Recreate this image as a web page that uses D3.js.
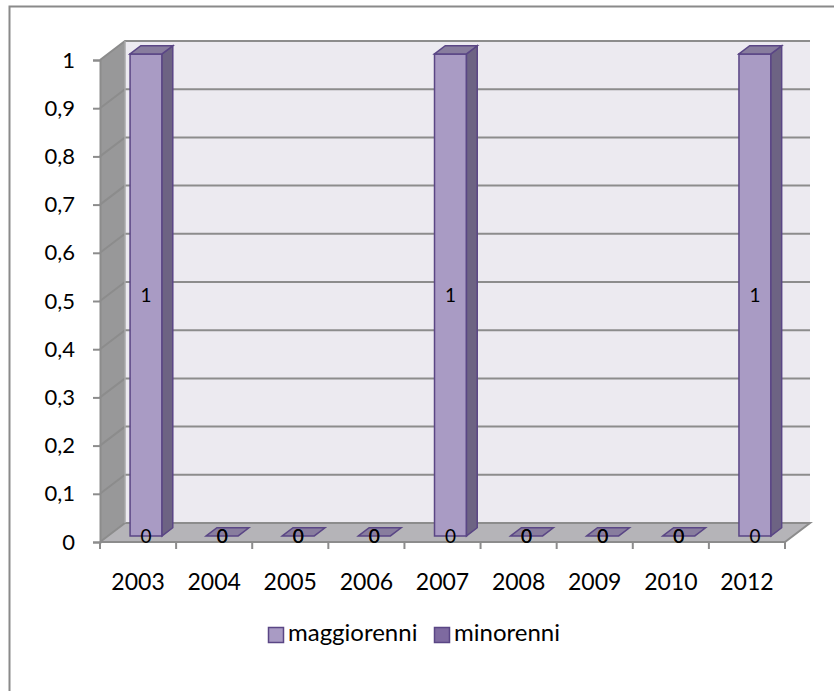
<!DOCTYPE html>
<html>
<head>
<meta charset="utf-8">
<script src="https://cdn.jsdelivr.net/npm/d3@7"></script>
<style>
  html, body { margin: 0; padding: 0; background: #fff; }
  svg { display: block; font-family: Lato, "Open Sans", sans-serif; }
</style>
</head>
<body>
<svg id="chart" width="834" height="691"></svg>
<script>
// Years shown on the category axis
const categories = ["2003", "2004", "2005", "2006", "2007", "2008", "2009", "2010", "2012"];
// Stacked series values
const maggiorenni = [1, 0, 0, 0, 1, 0, 0, 0, 1];
const minorenni   = [0, 0, 0, 0, 0, 0, 0, 0, 0];
// Value axis ticks and their labels
const yTicks = [0, 0.1, 0.2, 0.3, 0.4, 0.5, 0.6, 0.7, 0.8, 0.9, 1];
const yTickLabels = ["0", "0,1", "0,2", "0,3", "0,4", "0,5", "0,6", "0,7", "0,8", "0,9", "1"];
const seriesNames = ["maggiorenni", "minorenni"];

const svg = d3.select("#chart");

// Plot frame (front plane) and depth offset of the 3D box
const X0 = 100, X1 = 785, Y0 = 542, Y1 = 60;
const DX = 25, DY = 19;

const x = d3.scaleBand().domain(categories).range([X0, X1]).paddingInner(0).paddingOuter(0);
const y = d3.scaleLinear().domain([0, 1]).range([Y0, Y1]);

// Project a point (px on front plane, value v, depth f in [0,1])
const P = (px, v, f) => [px + DX * f, y(v) - DY * f];
const poly = pts => "M" + pts.map(p => p.join(",")).join("L") + "Z";
const line = pts => "M" + pts.map(p => p.join(",")).join("L");

const colors = {
  maggiorenni: { front: "#A99BC4", side: "#6D6383", top: "#887D9E", legend: "#A99BC4" },
  minorenni:   { front: "#7E6AA0", side: "#54476B", top: "#6B5C86", legend: "#7E6AA0" }
};
const edge = "#5A4685";
const gridColor = "#8C8C8C";

// Outer chart border
svg.append("rect")
  .attr("x", 9.5).attr("y", 6.5).attr("width", 900).attr("height", 800)
  .attr("fill", "#fff").attr("stroke", "#8a8a8a").attr("stroke-width", 2);

// Walls and floor
svg.append("path") // side wall
  .attr("d", poly([P(X0, 0, 0), P(X0, 1, 0), P(X0, 1, 1), P(X0, 0, 1)]))
  .attr("fill", "#989899");
svg.append("path") // back wall
  .attr("d", poly([P(X0, 0, 1), P(X0, 1, 1), P(X1, 1, 1), P(X1, 0, 1)]))
  .attr("fill", "#ECEAF0");
svg.append("path") // floor
  .attr("d", poly([P(X0, 0, 0), P(X0, 0, 1), P(X1, 0, 1), P(X1, 0, 0)]))
  .attr("fill", "#B5B4B8");

// Gridlines running along side wall and back wall
svg.append("g").selectAll("path")
  .data(yTicks.filter(v => v > 0))
  .join("path")
  .attr("d", v => line([P(X0, v, 0), P(X0, v, 1), P(X1, v, 1)]))
  .attr("fill", "none").attr("stroke", gridColor).attr("stroke-width", 2);

// Floor outline
svg.append("path")
  .attr("d", line([P(X0, 0, 0), P(X0, 0, 1), P(X1, 0, 1), P(X1, 0, 0), P(X0, 0, 0)]))
  .attr("fill", "none").attr("stroke", gridColor).attr("stroke-width", 2);
// Back wall left edge
svg.append("path")
  .attr("d", line([P(X0, 0, 1), P(X0, 1, 1)]))
  .attr("stroke", "#a8a8aa").attr("stroke-width", 1.5);

// Value axis
const yAxis = d3.axisLeft(y)
  .tickValues(yTicks)
  .tickFormat((d, i) => yTickLabels[i])
  .tickSize(7).tickPadding(18);
const ya = svg.append("g").attr("transform", `translate(${X0},0)`).call(yAxis);
ya.select(".domain").attr("stroke", gridColor).attr("stroke-width", 2);
ya.selectAll(".tick line").attr("stroke", gridColor).attr("stroke-width", 2);
ya.selectAll(".tick text").attr("font-size", 22).attr("fill", "#000")
  .attr("font-family", "Lato, sans-serif");

// Category axis along the front floor edge
const xAxis = d3.axisBottom(x).tickSize(0).tickPadding(32);
const xa = svg.append("g").attr("transform", `translate(0,${Y0})`).call(xAxis);
xa.select(".domain").remove();
xa.selectAll(".tick text").attr("font-size", 23).attr("fill", "#000")
  .attr("font-family", "Lato, sans-serif");
// Category tick marks at band boundaries
const bounds = categories.map(c => x(c)).concat([X1]);
svg.append("g").selectAll("line")
  .data(bounds)
  .join("line")
  .attr("x1", d => d).attr("x2", d => d)
  .attr("y1", Y0).attr("y2", Y0 + 7)
  .attr("stroke", gridColor).attr("stroke-width", 2);

// Bars: 3D boxes, stacked
const F0 = 0.32, F1 = 0.75;        // depth extent of the bars
const barW = x.bandwidth() * 0.42;
const stackData = categories.map((c, i) => {
  const a = maggiorenni[i], b = minorenni[i];
  return [
    { cat: c, s: "maggiorenni", v0: 0, v1: a, value: a },
    { cat: c, s: "minorenni", v0: a, v1: a + b, value: b }
  ];
});

const barsG = svg.append("g");
stackData.forEach(stack => {
  stack.forEach((d, k) => {
    // zero-height upper segments are hidden under the lower one
    if (k > 0 && d.value === 0) return;
    const xl = x(d.cat) + (x.bandwidth() - barW) / 2;
    const xr = xl + barW;
    const col = colors[d.s];
    const g = barsG.append("g");
    if (d.v1 > d.v0) {
      g.append("path") // front face
        .attr("d", poly([P(xl, d.v0, F0), P(xl, d.v1, F0), P(xr, d.v1, F0), P(xr, d.v0, F0)]))
        .attr("fill", col.front).attr("stroke", edge).attr("stroke-width", 1.5);
      g.append("path") // side face
        .attr("d", poly([P(xr, d.v0, F0), P(xr, d.v1, F0), P(xr, d.v1, F1), P(xr, d.v0, F1)]))
        .attr("fill", col.side).attr("stroke", edge).attr("stroke-width", 1.5);
    }
    g.append("path") // top face
      .attr("d", poly([P(xl, d.v1, F0), P(xl, d.v1, F1), P(xr, d.v1, F1), P(xr, d.v1, F0)]))
      .attr("fill", col.top).attr("stroke", edge).attr("stroke-width", 1.5);
  });
});

// Data labels: non-zero values sit mid-segment, zero values sit on the floor
const labelsG = svg.append("g").attr("font-size", 19).attr("fill", "#000")
  .attr("text-anchor", "middle").attr("font-family", "Lato, sans-serif");
stackData.forEach(stack => {
  stack.forEach(d => {
    const cx = x(d.cat) + x.bandwidth() / 2 + DX * F0;
    const cy = d.value > 0 ? (y(d.v0) + y(d.v1)) / 2 - DY * F0 : y(0) - DY * F0;
    labelsG.append("text")
      .attr("x", cx).attr("y", cy).attr("dy", "0.36em")
      .text(d.value);
  });
});

// Legend
const legend = svg.append("g").attr("font-family", "Lato, sans-serif").attr("font-size", 24);
const legendItems = [
  { name: seriesNames[0], x: 268 },
  { name: seriesNames[1], x: 434 }
];
legendItems.forEach(it => {
  legend.append("rect")
    .attr("x", it.x + 0.5).attr("y", 627.5).attr("width", 15).attr("height", 15)
    .attr("fill", colors[it.name].legend).attr("stroke", edge).attr("stroke-width", 1.5);
  legend.append("text")
    .attr("x", it.x + 20).attr("y", 641).text(it.name);
});
</script>
</body>
</html>
